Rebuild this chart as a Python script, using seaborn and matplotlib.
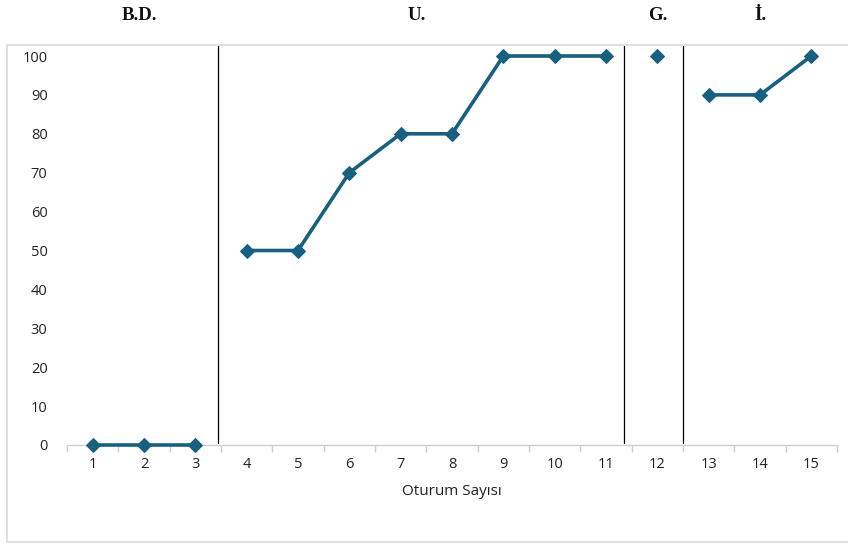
import matplotlib
matplotlib.use("Agg")
import matplotlib.pyplot as plt
import matplotlib.transforms as mtransforms
import seaborn as sns
import pandas as pd
from matplotlib.patches import Rectangle

sessions = list(range(1, 16))
values = [0, 0, 0, 50, 50, 70, 80, 80, 100, 100, 100, 100, 90, 90, 100]
phases = ["B.D."] * 3 + ["U."] * 8 + ["G."] * 1 + ["İ."] * 3
phase_labels = ["B.D.", "U.", "G.", "İ."]
phase_label_x = [1.92, 7.32, 12.0, 14.0]
phase_lines = [3.45, 11.36, 12.5]
yticks = [0, 10, 20, 30, 40, 50, 60, 70, 80, 90, 100]

df = pd.DataFrame({"session": sessions, "value": values, "phase": phases})

sns.set_theme(style="white")
plt.rcParams["font.family"] = ["Open Sans", "DejaVu Sans"]

color = "#17607F"
fig = plt.figure(figsize=(8.48, 5.45), dpi=100)
ax = fig.add_axes([67 / 848, 1 - 445 / 545, 770 / 848, 389 / 545])

sns.lineplot(data=df, x="session", y="value", units="phase", estimator=None,
             color=color, marker="D", markersize=7.5, markeredgecolor=color,
             linewidth=2.6, ax=ax, legend=False, clip_on=False, zorder=4)

ax.set_xlim(0.5, 15.5)
ax.set_ylim(0, 100)
ax.set_yticks(yticks)
ax.set_yticklabels([str(v) for v in yticks], fontsize=10.5)
ax.set_xticks(sessions)
ax.set_xticklabels([str(s) for s in sessions], fontsize=10.5)
ax.set_xticks([i + 0.5 for i in range(0, 16)], minor=True)
ax.tick_params(axis="x", which="major", length=0, pad=9, colors="#222222")
ax.tick_params(axis="x", which="minor", length=5, width=1, color="#D0D0D0", bottom=True)
ax.tick_params(axis="y", length=0, pad=14, colors="#222222")

for s in ["top", "right", "left"]:
    ax.spines[s].set_visible(False)
ax.spines["bottom"].set_color("#D0D0D0")
ax.spines["bottom"].set_linewidth(1)

ax.set_xlabel("Oturum Sayısı", fontsize=11, color="#222222", labelpad=8)
ax.set_ylabel("")

for xl in phase_lines:
    ax.plot([xl, xl], [0.5, 102.6], color="black", lw=0.9, clip_on=False, zorder=3)

trans = mtransforms.blended_transform_factory(ax.transData, fig.transFigure)
for lab, xl in zip(phase_labels, phase_label_x):
    ax.text(xl, 1 - 16 / 545, lab, transform=trans,
            ha="center", va="center", fontsize=13.5, fontweight="bold",
            family=["Liberation Serif", "DejaVu Serif"], color="#111111")

fig.patches.append(Rectangle((7 / 848, 1 - 542 / 545), 1.0, (542 - 45) / 545,
                             transform=fig.transFigure, fill=False,
                             edgecolor="#D9D9D9", lw=1.2))

fig.savefig("out.png", dpi=100)
